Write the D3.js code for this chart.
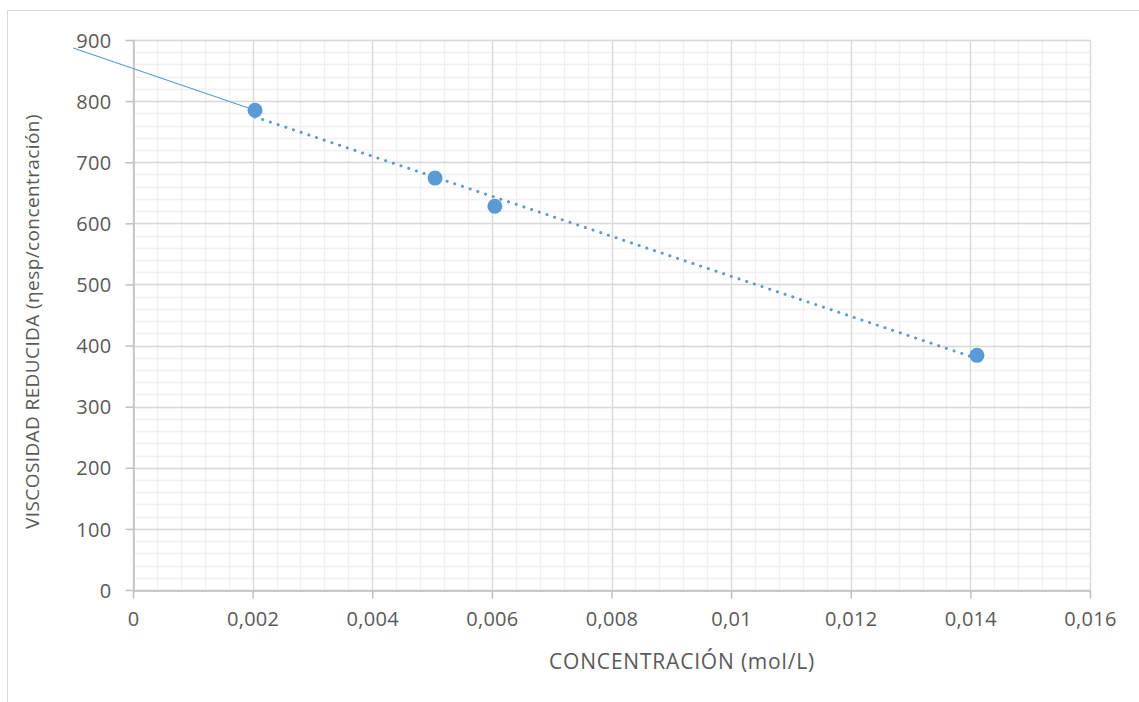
<!DOCTYPE html>
<html>
<head>
<meta charset="utf-8">
<script src="https://cdn.jsdelivr.net/npm/d3@7"></script>
<style>
  html, body { margin: 0; padding: 0; background: #ffffff; }
  svg { display: block; }
  text { font-family: "Open Sans", "Liberation Sans", sans-serif; fill: #595959; }
</style>
</head>
<body>
<svg id="chart" width="1139" height="702"></svg>
<script>
// Reduced viscosity vs. concentration
const concentration = [0.00204, 0.00505, 0.00605, 0.01411];   // mol/L
const reducedViscosity = [785, 674, 628, 384];               // ηesp/c
// hand-drawn extension toward the intercept
const extensionX = [-0.001, 0.00204];
const extensionY = [887, 785];

const xTicks = [0, 0.002, 0.004, 0.006, 0.008, 0.01, 0.012, 0.014, 0.016];
const xTickLabels = ["0", "0,002", "0,004", "0,006", "0,008", "0,01", "0,012", "0,014", "0,016"];
const yTicks = [0, 100, 200, 300, 400, 500, 600, 700, 800, 900];

const xTitle = "CONCENTRACIÓN (mol/L)";
const yTitle = "VISCOSIDAD REDUCIDA (ηesp/concentración)";

const svg = d3.select("#chart");
const W = 1139, H = 702;
const blue = "#5b9bd5";

// outer chart frame
svg.append("rect")
  .attr("x", 7.5).attr("y", 10.5)
  .attr("width", W + 20).attr("height", H + 20)
  .attr("fill", "none").attr("stroke", "#d9d9d9").attr("stroke-width", 1);

const m = { left: 133, right: 1090, top: 40, bottom: 590 };
const x = d3.scaleLinear().domain([0, 0.016]).range([m.left, m.right]);
const y = d3.scaleLinear().domain([0, 900]).range([m.bottom, m.top]);

// minor grid
const xMinor = d3.range(0, 0.016 + 1e-9, 0.0004);
const yMinor = d3.range(0, 900 + 1e-9, 20);
const grid = svg.append("g");
grid.selectAll("line.xm").data(xMinor).join("line")
  .attr("x1", d => Math.round(x(d)) + 0.5).attr("x2", d => Math.round(x(d)) + 0.5)
  .attr("y1", m.top).attr("y2", m.bottom)
  .attr("stroke", "#f0f0f0").attr("stroke-width", 1.3);
grid.selectAll("line.ym").data(yMinor).join("line")
  .attr("y1", d => Math.round(y(d)) + 0.5).attr("y2", d => Math.round(y(d)) + 0.5)
  .attr("x1", m.left).attr("x2", m.right)
  .attr("stroke", "#f0f0f0").attr("stroke-width", 1.3);
// major grid
grid.selectAll("line.xM").data(xTicks).join("line")
  .attr("x1", d => Math.round(x(d)) + 0.5).attr("x2", d => Math.round(x(d)) + 0.5)
  .attr("y1", m.top).attr("y2", m.bottom)
  .attr("stroke", "#d9d9d9").attr("stroke-width", 1.3);
grid.selectAll("line.yM").data(yTicks).join("line")
  .attr("y1", d => Math.round(y(d)) + 0.5).attr("y2", d => Math.round(y(d)) + 0.5)
  .attr("x1", m.left).attr("x2", m.right)
  .attr("stroke", "#d9d9d9").attr("stroke-width", 1.3);

// axes
const xAxis = d3.axisBottom(x).tickValues(xTicks)
  .tickFormat((d, i) => xTickLabels[i]).tickSizeInner(8).tickSizeOuter(0).tickPadding(13);
const yAxis = d3.axisLeft(y).tickValues(yTicks)
  .tickFormat(d3.format("d")).tickSizeInner(8).tickSizeOuter(0).tickPadding(14);

const gx = svg.append("g").attr("transform", `translate(0,${m.bottom + 0.5})`).call(xAxis);
const gy = svg.append("g").attr("transform", `translate(${m.left + 0.5},0)`).call(yAxis);
[gx, gy].forEach(g => {
  g.select(".domain").attr("stroke", "#bfbfbf").attr("stroke-width", 1.5);
  g.selectAll(".tick line").attr("stroke", "#bfbfbf").attr("stroke-width", 1.5);
  g.selectAll(".tick text").attr("fill", "#595959")
    .style("font-family", "'Open Sans', sans-serif").style("font-size", "20px")
    .style("letter-spacing", "0.3px");
});
gy.selectAll(".tick text").attr("dy", "0.36em");

// linear least-squares trend over the data range
const n = concentration.length;
const mx = d3.mean(concentration), my = d3.mean(reducedViscosity);
let sxy = 0, sxx = 0;
for (let i = 0; i < n; i++) {
  sxy += (concentration[i] - mx) * (reducedViscosity[i] - my);
  sxx += (concentration[i] - mx) ** 2;
}
const slope = sxy / sxx, intercept = my - slope * mx;
const xr = d3.extent(concentration);
const trend = xr.map(c => [c, intercept + slope * c]);

const line = d3.line().x(d => x(d[0])).y(d => y(d[1]));

svg.append("path")
  .attr("d", line(extensionX.map((c, i) => [c, extensionY[i]])))
  .attr("fill", "none").attr("stroke", blue).attr("stroke-width", 1.2);

svg.append("path")
  .attr("d", line(trend))
  .attr("fill", "none").attr("stroke", blue).attr("stroke-width", 3)
  .attr("stroke-linecap", "round").attr("stroke-dasharray", "0.1 8");

svg.append("g").selectAll("circle")
  .data(concentration.map((c, i) => [c, reducedViscosity[i]]))
  .join("circle")
  .attr("cx", d => x(d[0])).attr("cy", d => y(d[1]))
  .attr("r", 7.5).attr("fill", blue);

// axis titles
svg.append("text")
  .attr("x", 682).attr("y", 669)
  .attr("text-anchor", "middle")
  .style("font-size", "21px").style("letter-spacing", "0.8px")
  .text(xTitle);

svg.append("text")
  .attr("transform", `translate(39,${(110 + 533) / 2}) rotate(-90)`)
  .attr("text-anchor", "middle")
  .style("font-size", "19px").style("letter-spacing", "0.4px")
  .text(yTitle);
</script>
</body>
</html>
